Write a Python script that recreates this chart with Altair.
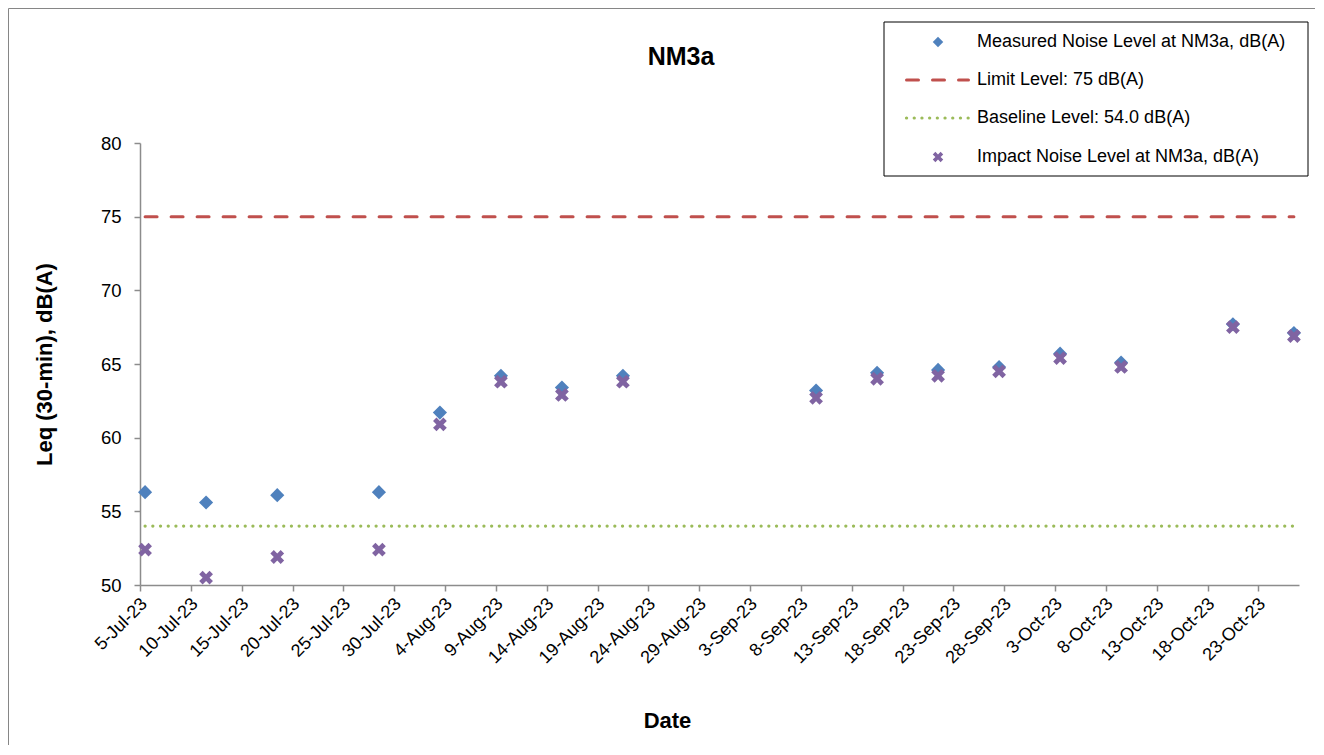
import altair as alt
import pandas as pd

# ---------------- data ----------------
dates = ["2023-07-05", "2023-07-11", "2023-07-18", "2023-07-28", "2023-08-03",
         "2023-08-09", "2023-08-15", "2023-08-21", "2023-09-09", "2023-09-15",
         "2023-09-21", "2023-09-27", "2023-10-03", "2023-10-09", "2023-10-20",
         "2023-10-26"]
measured = [56.3, 55.6, 56.1, 56.3, 61.7, 64.2, 63.4, 64.2, 63.2, 64.4,
            64.6, 64.8, 65.7, 65.1, 67.7, 67.1]
impact = [52.4, 50.5, 51.9, 52.4, 60.9, 63.8, 62.9, 63.8, 62.7, 64.0,
          64.2, 64.5, 65.4, 64.8, 67.5, 66.9]
limit_level = 75
baseline_level = 54.0
series_names = ["Measured Noise Level at NM3a, dB(A)",
                "Limit Level: 75 dB(A)",
                "Baseline Level: 54.0 dB(A)",
                "Impact Noise Level at NM3a, dB(A)"]
x_tick_dates = [(7, 5), (7, 10), (7, 15), (7, 20), (7, 25), (7, 30), (8, 4),
                (8, 9), (8, 14), (8, 19), (8, 24), (8, 29), (9, 3), (9, 8),
                (9, 13), (9, 18), (9, 23), (9, 28), (10, 3), (10, 8),
                (10, 13), (10, 18), (10, 23)]
y_ticks = [50, 55, 60, 65, 70, 75, 80]
chart_title = "NM3a"
x_title = "Date"
y_title = "Leq (30-min), dB(A)"

# ---------------- styling ----------------
FONT = "Liberation Sans"
C_MEAS = "#4F81BD"
C_LIMIT = "#C0504D"
C_BASE = "#9BBB59"
C_IMP = "#8064A2"
AXIS_GRAY = "#8C8C8C"
X_SHAPE = ("M-1,-0.5 L-0.5,-1 L0,-0.5 L0.5,-1 L1,-0.5 L0.5,0 "
           "L1,0.5 L0.5,1 L0,0.5 L-0.5,1 L-1,0.5 L-0.5,0 Z")

W, H = 1159, 442
PAD_L, PAD_T = 132, 135

n = len(dates)
df = pd.DataFrame({
    "date": pd.to_datetime(dates) + pd.Timedelta(hours=12),
    "measured": measured,
    "impact": impact,
    "limit": [limit_level] * n,
    "baseline": [baseline_level] * n,
})

x_scale = alt.Scale(domain=[alt.DateTime(year=2023, month=7, date=5),
                            alt.DateTime(year=2023, month=10, date=27)],
                    nice=False)
y_scale = alt.Scale(domain=[y_ticks[0], y_ticks[-1]], nice=False, zero=False)

x_axis = alt.Axis(
    values=[alt.DateTime(year=2023, month=m, date=d) for m, d in x_tick_dates],
    format="%-d-%b-%y", labelAngle=315, labelAlign="right",
    labelBaseline="middle", labelFontSize=18, labelPadding=10, labelOffset=4,
    labelColor="#000000", tickSize=6, tickColor=AXIS_GRAY, tickWidth=1.5,
    domainColor=AXIS_GRAY, domainWidth=1.5, grid=False,
    title=x_title, titleFontSize=22, titleFontWeight="bold",
    titleColor="#000000", titleX=667 - 140, titleY=135,
    titleAlign="center", titleBaseline="middle",
    labelOverlap=False, labelFlush=False)
y_axis = alt.Axis(
    values=y_ticks, labelFontSize=18.5, labelPadding=13, labelColor="#000000",
    tickSize=6, tickColor=AXIS_GRAY, tickWidth=1.5, domainColor=AXIS_GRAY,
    domainWidth=1.5, grid=False, title=y_title, titleFontSize=22,
    titleFontWeight="bold", titleColor="#000000", titleX=-96,
    titleBaseline="middle")

base = alt.Chart(df)
X = alt.X("date:T", scale=x_scale, axis=x_axis)

meas_pts = base.mark_point(shape="diamond", filled=True, color=C_MEAS,
                           size=200, opacity=1).encode(
    x=X, y=alt.Y("measured:Q", scale=y_scale, axis=y_axis))
limit_line = base.mark_line(color=C_LIMIT, strokeWidth=3,
                            strokeDash=[12, 14], strokeCap="round").encode(
    x=X, y=alt.Y("limit:Q", scale=y_scale))
base_line = base.mark_line(color=C_BASE, strokeWidth=3.2,
                           strokeDash=[0.1, 7.6], strokeCap="round").encode(
    x=X, y=alt.Y("baseline:Q", scale=y_scale))
imp_pts = base.mark_point(shape=X_SHAPE, filled=True, color=C_IMP,
                          size=190, opacity=1).encode(
    x=X, y=alt.Y("impact:Q", scale=y_scale))

one = alt.Data(values=[{"k": 1}])

# outer chart-area border
border = alt.Chart(one).mark_rect(fill=None, stroke="#868686",
                                  strokeWidth=1).encode(
    x=alt.value(-PAD_L + 0.5), x2=alt.value(3000),
    y=alt.value(-PAD_T + 0.5), y2=alt.value(3000))

title_txt = alt.Chart(one).mark_text(
    text=chart_title, font=FONT, fontSize=25, fontWeight="bold",
    align="center", baseline="middle", color="#000000").encode(
    x=alt.value(681 - 140), y=alt.value(57 - 143))

# ---- legend ----
LX0, LX1, LY0, LY1 = 884 - 140, 1308 - 140, 22 - 143, 176 - 143
rows_y = [42 - 143, 80 - 143, 118 - 143, 157 - 143]
sym_x = 938 - 140
line_x0, line_x1 = 905 - 140, 970 - 140
text_x = 977 - 140

leg_box = alt.Chart(one).mark_rect(fill="#FFFFFF", stroke="#000000",
                                   strokeWidth=1).encode(
    x=alt.value(LX0), x2=alt.value(LX1), y=alt.value(LY0), y2=alt.value(LY1))
leg_diamond = alt.Chart(one).mark_point(shape="diamond", filled=True,
                                        color=C_MEAS, size=110,
                                        opacity=1).encode(
    x=alt.value(sym_x), y=alt.value(rows_y[0]))
leg_limit = alt.Chart(one).mark_rule(color=C_LIMIT, strokeWidth=3,
                                     strokeDash=[12, 14],
                                     strokeCap="round").encode(
    x=alt.value(line_x0 + 1.5), x2=alt.value(line_x1 - 1.5),
    y=alt.value(rows_y[1]))
leg_base = alt.Chart(one).mark_rule(color=C_BASE, strokeWidth=3.2,
                                    strokeDash=[0.1, 7.6],
                                    strokeCap="round").encode(
    x=alt.value(line_x0 + 1.5), x2=alt.value(line_x1),
    y=alt.value(rows_y[2]))
leg_cross = alt.Chart(one).mark_point(shape=X_SHAPE, filled=True,
                                      color=C_IMP, size=110,
                                      opacity=1).encode(
    x=alt.value(sym_x), y=alt.value(rows_y[3]))
leg_texts = [
    alt.Chart(one).mark_text(text=name, font=FONT, fontSize=18,
                             align="left", baseline="middle",
                             color="#000000").encode(
        x=alt.value(text_x), y=alt.value(ry))
    for name, ry in zip(series_names, rows_y)
]

chart = alt.layer(
    border, meas_pts, limit_line, base_line, imp_pts, title_txt,
    leg_box, leg_diamond, leg_limit, leg_base, leg_cross, *leg_texts
).properties(
    width=W, height=H,
    autosize=alt.AutoSizeParams(type="none"),
    padding={"left": PAD_L, "top": PAD_T, "right": 16, "bottom": 160},
    background="#FFFFFF",
).configure(font=FONT).configure_view(stroke=None)

chart.save("out.html", embed_options={"renderer": "svg", "actions": False})
